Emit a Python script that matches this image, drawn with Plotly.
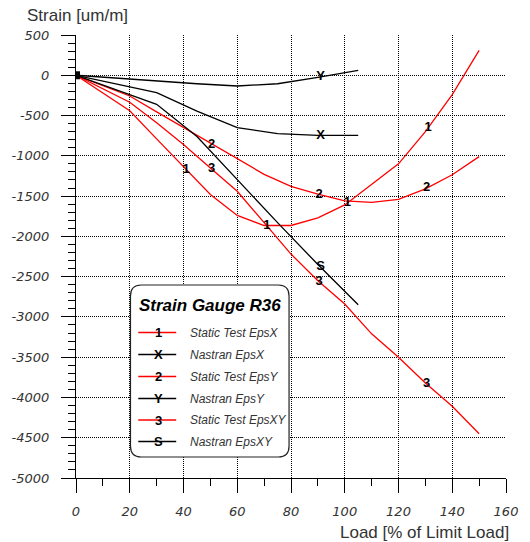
import numpy as np
import plotly.graph_objects as go

# ---- data ----
test_x = [0, 10, 20, 30, 40, 50, 60, 70, 80, 90, 100, 110, 120, 130, 140, 150]
test_epsx = [0, -220, -440, -790, -1140, -1480, -1740, -1865, -1865, -1770, -1610, -1360, -1100, -700, -240, 310]
test_epsy = [0, -128, -257, -455, -650, -850, -1045, -1230, -1380, -1475, -1560, -1578, -1540, -1410, -1235, -1010]
test_epsxy = [0, -165, -335, -590, -860, -1150, -1440, -1830, -2220, -2550, -2840, -3210, -3500, -3820, -4110, -4450]

nastran_x = [0, 15, 30, 45, 60, 75, 90, 105]
nastran_epsx = [0, -105, -215, -445, -650, -725, -745, -745]
nastran_epsy = [0, -38, -75, -105, -133, -105, -25, 62]
nastran_epsxy = [0, -180, -360, -760, -1300, -1830, -2350, -2850]

label_x_test_epsx = [41, 71, 101, 131]
label_x_test_epsy = [50.5, 90.5, 130.5]
label_x_test_epsxy = [50.5, 90.5, 130.5]
label_x_nastran = [91]

series_names = ["Static Test EpsX", "Nastran EpsX", "Static Test EpsY",
                "Nastran EpsY", "Static Test EpsXY", "Nastran EpsXY"]
series_symbols = ["1", "X", "2", "Y", "3", "S"]

x_ticks = [0, 20, 40, 60, 80, 100, 120, 140, 160]
y_ticks = [500, 0, -500, -1000, -1500, -2000, -2500, -3000, -3500, -4000, -4500, -5000]

RED = "#ff0000"
BLACK = "#000000"

series = [
    (test_x, test_epsx, RED, label_x_test_epsx),
    (nastran_x, nastran_epsx, BLACK, label_x_nastran),
    (test_x, test_epsy, RED, label_x_test_epsy),
    (nastran_x, nastran_epsy, BLACK, label_x_nastran),
    (test_x, test_epsxy, RED, label_x_test_epsxy),
    (nastran_x, nastran_epsxy, BLACK, label_x_nastran),
]

fig = go.Figure()
for (xs, ys, col, lx), name in zip(series, series_names):
    fig.add_trace(go.Scatter(x=xs, y=ys, mode="lines", name=name,
                             line=dict(color=col, width=1.3), showlegend=False))

for (xs, ys, col, lx), sym in zip(series, series_symbols):
    ly = np.interp(lx, xs, ys)
    fig.add_trace(go.Scatter(x=lx, y=ly, mode="text", text=[sym] * len(lx),
                             textposition="middle center",
                             textfont=dict(family="Liberation Sans", size=13,
                                           color="black", weight="bold"),
                             showlegend=False))

# origin marker (all series start point)
fig.add_trace(go.Scatter(x=[test_x[0]], y=[test_epsx[0]], mode="markers",
                         marker=dict(symbol="square", size=8, color="black"),
                         showlegend=False))

tickfont = dict(family="DejaVu Sans", size=13, color="#333333", style="italic")

fig.update_xaxes(range=[0, 160], tickvals=x_ticks, ticktext=[str(v) for v in x_ticks],
                 showgrid=True, gridcolor="black", griddash="1px,1px", gridwidth=1,
                 zeroline=False, showline=True, linecolor="black", linewidth=1,
                 ticks="outside", ticklen=14, tickwidth=1, tickcolor="black",
                 minor=dict(dtick=10, ticklen=7, tickcolor="black", ticks="outside", showgrid=False),
                 tickfont=tickfont, ticklabelstandoff=7)
fig.update_yaxes(range=[-5000, 500], tickvals=y_ticks, ticktext=[str(v) for v in y_ticks],
                 showgrid=True, gridcolor="black", griddash="1px,1px", gridwidth=1,
                 zeroline=False, showline=True, linecolor="black", linewidth=1,
                 ticks="outside", ticklen=14, tickwidth=1, tickcolor="black",
                 minor=dict(dtick=100, ticklen=7, tickcolor="black", ticks="outside", showgrid=False),
                 tickfont=tickfont, ticklabelstandoff=9)

L, R, T, B = 74, 14, 35, 64
W, H = 530, 542
PW, PH = W - L - R, H - T - B


def px_x(px):
    return (px - L) / PW


def px_y(py):
    return (H - B - py) / PH


annotations = []
shapes = []

annotations.append(dict(text="Strain [um/m]", xref="paper", yref="paper",
                        x=px_x(22), y=px_y(16), xanchor="left", yanchor="middle",
                        showarrow=False,
                        font=dict(family="Liberation Sans", size=17, color="#333333")))
annotations.append(dict(text="Load [% of Limit Load]", xref="paper", yref="paper",
                        x=px_x(521), y=px_y(532), xanchor="right", yanchor="middle",
                        showarrow=False,
                        font=dict(family="Liberation Sans", size=17, color="#333333")))

# legend box with rounded corners
bx0, bx1, by0, by1, rad = 130, 293, 285, 457, 11
x0, x1 = px_x(bx0), px_x(bx1)
y0, y1 = px_y(by1), px_y(by0)
rx, ry = rad / PW, rad / PH
path = (f"M {x0+rx},{y1} L {x1-rx},{y1} Q {x1},{y1} {x1},{y1-ry} "
        f"L {x1},{y0+ry} Q {x1},{y0} {x1-rx},{y0} L {x0+rx},{y0} "
        f"Q {x0},{y0} {x0},{y0+ry} L {x0},{y1-ry} Q {x0},{y1} {x0+rx},{y1} Z")
shapes.append(dict(type="path", path=path, xref="paper", yref="paper",
                   fillcolor="white", line=dict(color="#222222", width=1.2), layer="above"))

annotations.append(dict(text="<b><i>Strain Gauge R36</i></b>", xref="paper", yref="paper",
                        x=px_x(212), y=px_y(305), xanchor="center", yanchor="middle",
                        showarrow=False,
                        font=dict(family="Liberation Sans", size=17, color="black")))

row_y = [332.5, 354.5, 376.5, 398.5, 420.0, 441.5]
for (xs, ys, col, lx), name, sym, ry_ in zip(series, series_names, series_symbols, row_y):
    shapes.append(dict(type="line", xref="paper", yref="paper",
                       x0=px_x(138), x1=px_x(177), y0=px_y(ry_), y1=px_y(ry_),
                       line=dict(color=col, width=1.6), layer="above"))
    annotations.append(dict(text=f"<b>{sym}</b>", xref="paper", yref="paper",
                            x=px_x(158.5), y=px_y(ry_), xanchor="center", yanchor="middle",
                            showarrow=False,
                            font=dict(family="Liberation Sans", size=13, color="black")))
    annotations.append(dict(text=f"<i>{name}</i>", xref="paper", yref="paper",
                            x=px_x(189), y=px_y(ry_), xanchor="left", yanchor="middle",
                            showarrow=False,
                            font=dict(family="Liberation Sans", size=12, color="#333333")))

fig.update_layout(width=W, height=H, margin=dict(l=L, r=R, t=T, b=B),
                  plot_bgcolor="white", paper_bgcolor="white",
                  showlegend=False, shapes=shapes, annotations=annotations)

fig.write_html("out.html")
